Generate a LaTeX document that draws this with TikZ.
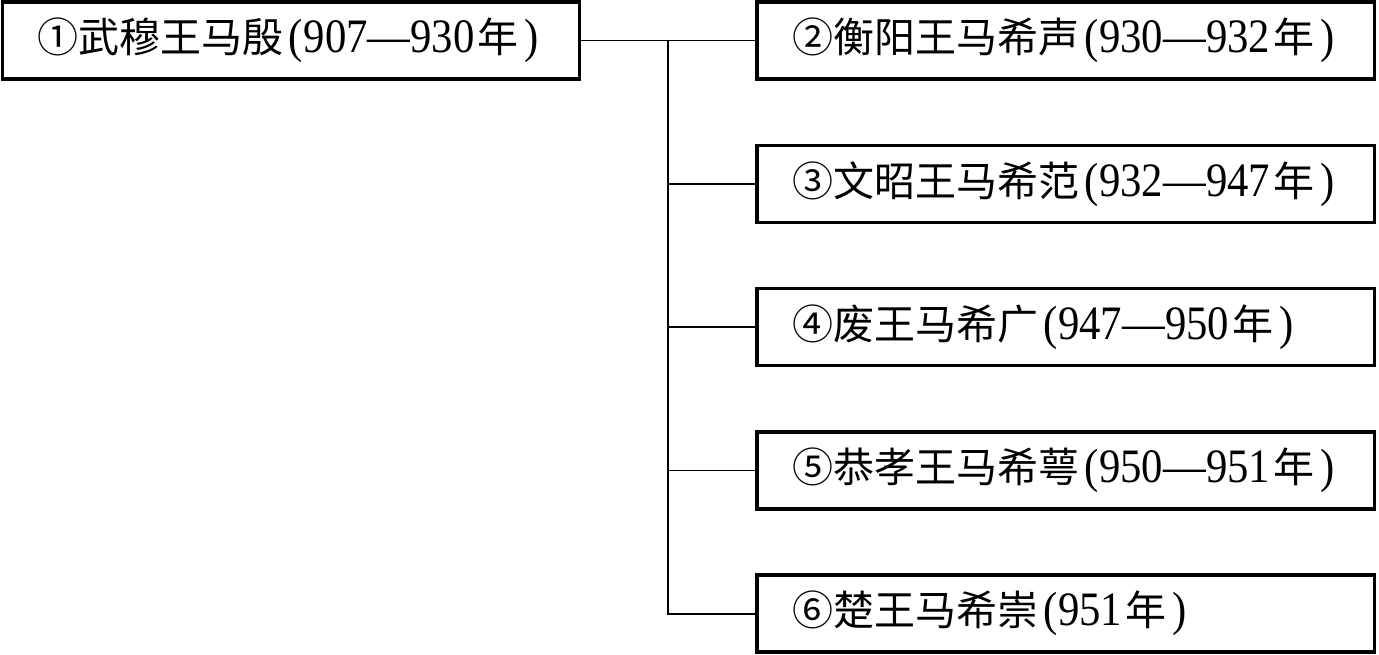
\documentclass[tikz,border=0pt]{standalone}
\usepackage{fontspec}
\setmainfont[FakeStretch=0.89]{Liberation Serif}
\newfontfamily\cjk{Noto Sans CJK SC}
\newcommand{\zh}[1]{{\cjk\fontsize{41}{48}\selectfont #1}}
\newcommand{\lp}{\hspace{5pt}(\hspace{1pt}}
\newcommand{\nian}{\hspace{3pt}\zh{年}\hspace{6pt})}
\tikzset{
  box/.style={draw, line width=3.5pt, minimum height=77pt, inner xsep=35pt, inner ysep=0pt,
    outer sep=0pt, align=left, anchor=north west, font=\fontsize{48}{56}\selectfont},
  lbox/.style={box, text width=507pt},
  rbox/.style={box, text width=547.5pt},
  conn/.style={draw, line width=1.8pt}
}
\begin{document}
\begin{tikzpicture}[x=1pt,y=-1pt]
\useasboundingbox (0,0) rectangle (1379,655);
\fill[white] (0,0) rectangle (1379,655);
\node[lbox] (b1) at (2.5,2) {\zh{①武穆王马殷}\lp907—930\nian};
\node[rbox] (b2) at (757,2) {\zh{②衡阳王马希声}\lp930—932\nian};
\node[rbox] (b3) at (757,145.3) {\zh{③文昭王马希范}\lp932—947\nian};
\node[rbox] (b4) at (757,288.6) {\zh{④废王马希广}\lp947—950\nian};
\node[rbox] (b5) at (757,431.9) {\zh{⑤恭孝王马希萼}\lp950—951\nian};
\node[rbox] (b6) at (757,575.2) {\zh{⑥楚王马希崇}\lp951\nian};
\coordinate (j) at (668,40.5);
\draw[conn] (b1.east) -- (b2.west);
\draw[conn] (j) |- (b6.west);
\foreach \i in {3,4,5} \draw[conn] (j |- b\i.west) -- (b\i.west);
\end{tikzpicture}
\end{document}
